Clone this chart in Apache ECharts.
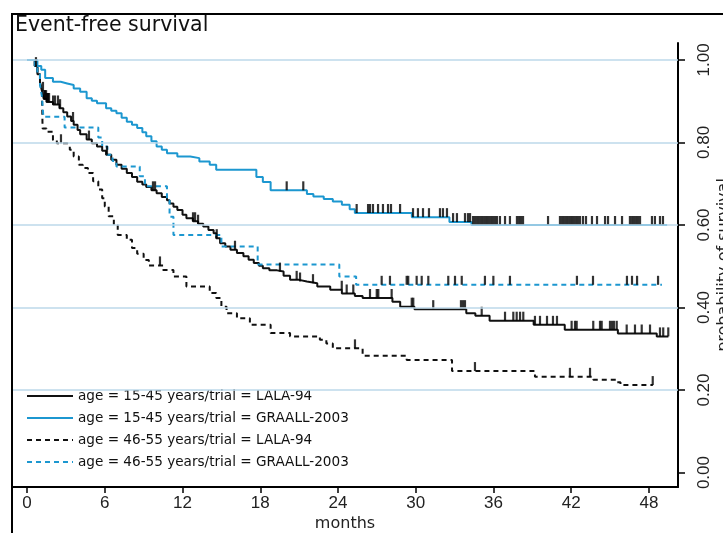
<!DOCTYPE html>
<html>
<head>
<meta charset="utf-8">
<script src="https://cdn.jsdelivr.net/npm/echarts@6/dist/echarts.min.js"></script>
<style>
  html, body { margin: 0; padding: 0; background: #fff; }
  #chart { width: 723px; height: 533px; }
</style>
</head>
<body>
<div id="chart"></div>
<script>
// Kaplan-Meier event-free survival, step points as [month, survival probability]
const lala1545Steps = [
  [0, 1.0], [0.6, 0.985], [0.8, 0.965], [1.0, 0.945], [1.15, 0.925], [1.3, 0.905], [1.5, 0.898],
  [2.0, 0.892], [2.5, 0.883], [2.8, 0.873], [3.1, 0.863], [3.4, 0.852], [3.6, 0.843], [3.9, 0.83],
  [4.1, 0.82], [4.6, 0.807], [5.0, 0.798], [5.4, 0.79], [5.8, 0.78], [6.1, 0.77], [6.5, 0.758],
  [6.9, 0.746], [7.3, 0.736], [7.7, 0.726], [8.1, 0.716], [8.5, 0.705], [8.9, 0.698], [9.2, 0.692],
  [9.6, 0.684], [10.0, 0.677], [10.4, 0.668], [10.8, 0.66], [11.0, 0.652], [11.3, 0.644], [11.6, 0.636],
  [12.0, 0.625], [12.3, 0.616], [12.8, 0.609], [13.2, 0.603], [13.6, 0.596], [14.0, 0.588], [14.4, 0.58],
  [14.6, 0.568], [14.9, 0.556], [15.3, 0.548], [15.7, 0.54], [16.2, 0.532], [16.7, 0.524], [17.1, 0.516],
  [17.5, 0.508], [17.9, 0.501], [18.2, 0.495], [18.7, 0.49], [19.3, 0.487], [19.8, 0.477], [20.3, 0.467],
  [21.0, 0.463], [21.6, 0.459], [22.4, 0.451], [23.4, 0.443], [24.3, 0.434], [25.3, 0.428], [25.9, 0.423],
  [28.2, 0.414], [28.8, 0.402], [29.9, 0.396], [33.9, 0.386], [34.6, 0.38], [35.7, 0.368], [39.1, 0.358],
  [41.5, 0.346], [45.6, 0.337], [48.6, 0.33], [49.5, 0.33]
];
const graall1545Steps = [
  [0, 1.0], [0.8, 0.985], [1.1, 0.976], [1.4, 0.956], [2.0, 0.947], [2.6, 0.943], [3.1, 0.939],
  [3.6, 0.931], [4.1, 0.923], [4.6, 0.907], [5.0, 0.901], [5.4, 0.895], [6.1, 0.883], [6.5, 0.877],
  [6.9, 0.871], [7.3, 0.86], [7.7, 0.85], [8.1, 0.843], [8.5, 0.835], [8.9, 0.825], [9.2, 0.815],
  [9.6, 0.803], [10.0, 0.79], [10.4, 0.782], [10.8, 0.774], [11.6, 0.766], [12.6, 0.762], [13.3, 0.754],
  [14.1, 0.746], [14.6, 0.734], [17.7, 0.716], [18.2, 0.704], [18.8, 0.684], [21.6, 0.675], [22.1, 0.669],
  [22.9, 0.663], [23.6, 0.657], [24.3, 0.649], [24.9, 0.638], [25.3, 0.629], [29.7, 0.619], [32.6, 0.607],
  [34.3, 0.6], [49.4, 0.6]
];
const lala4655Steps = [
  [0, 1.0], [0.6, 0.985], [0.8, 0.965], [1.0, 0.945], [1.15, 0.925], [1.2, 0.834], [1.5, 0.826],
  [2.0, 0.806], [2.3, 0.798], [3.1, 0.794], [3.3, 0.782], [3.6, 0.766], [4.0, 0.746], [4.3, 0.738],
  [4.7, 0.726], [5.1, 0.706], [5.5, 0.686], [5.8, 0.665], [6.0, 0.645], [6.3, 0.621], [6.7, 0.6],
  [7.0, 0.576], [7.7, 0.564], [8.1, 0.544], [8.5, 0.53], [9.0, 0.515], [9.4, 0.502], [10.5, 0.491],
  [11.3, 0.475], [12.3, 0.451], [14.1, 0.435], [14.6, 0.423], [15.0, 0.402], [15.4, 0.386], [16.2, 0.374],
  [17.2, 0.358], [18.8, 0.338], [20.3, 0.33], [22.6, 0.322], [23.1, 0.313], [23.6, 0.301], [25.9, 0.283],
  [29.3, 0.273], [32.8, 0.246], [39.2, 0.232], [43.7, 0.225], [45.5, 0.219], [45.8, 0.212], [48.3, 0.212]
];
const graall4655Steps = [
  [0, 1.0], [0.6, 0.985], [0.8, 0.965], [1.0, 0.94], [1.15, 0.912], [1.26, 0.862], [2.9, 0.836],
  [5.5, 0.812], [5.8, 0.79], [6.2, 0.77], [6.6, 0.755], [6.9, 0.742], [8.7, 0.718], [9.1, 0.694],
  [10.8, 0.66], [11.0, 0.62], [11.3, 0.576], [15.0, 0.548], [17.8, 0.504], [24.1, 0.475], [25.4, 0.455],
  [49.0, 0.455]
];

// Censoring times (months)
const lala1545Censored = [
  0.69, 1.23, 1.31, 1.39, 1.47, 1.54, 1.62, 1.70, 2.01, 2.16, 2.39, 2.55, 3.55, 4.78, 6.17, 9.72, 9.88,
  12.81, 12.97, 13.20, 14.64, 16.05, 19.52, 20.81, 21.07, 22.07, 24.29, 24.67, 25.18, 26.47, 26.99, 27.11,
  28.14, 29.69, 29.81, 31.35, 33.49, 33.65, 33.80, 35.09, 36.89, 37.53, 37.79, 38.05, 38.30, 39.20, 39.59,
  40.13, 40.59, 40.90, 42.03, 42.29, 42.42, 43.70, 44.22, 44.35, 44.99, 45.15, 45.30, 45.51, 46.28, 46.92,
  47.44, 48.08, 48.85, 49.10, 49.49
];
const graall1545Censored = [
  20.04, 21.32, 25.44, 26.32, 26.47, 26.70, 27.09, 27.47, 27.86, 28.09, 28.79, 29.79, 30.17, 30.56, 31.02,
  31.87, 32.10, 32.41, 32.88, 33.18, 33.80, 34.03, 34.19, 34.42, 34.57, 34.73, 34.88, 35.04, 35.19, 35.35,
  35.50, 35.65, 35.81, 35.96, 36.12, 36.27, 36.50, 36.89, 37.27, 37.81, 37.97, 38.12, 38.28, 40.21, 41.13,
  41.29, 41.44, 41.60, 41.75, 41.91, 42.06, 42.21, 42.37, 42.52, 42.68, 42.91, 43.14, 43.60, 43.99, 44.61,
  44.84, 45.38, 45.92, 46.53, 46.69, 46.84, 47.00, 47.15, 47.31, 48.23, 48.46, 48.85, 49.08
];
const lala4655Censored = [2.62, 10.26, 25.31, 34.57, 41.90, 43.45, 48.29];
const graall4655Censored = [
  27.37, 28.01, 29.30, 29.42, 30.07, 30.46, 30.97, 32.51, 33.03, 33.55, 35.34, 35.99, 37.27, 42.44, 43.68,
  46.30, 46.69, 47.08, 48.70
];

const seriesNames = [
  'age = 15-45 years/trial = LALA-94',
  'age = 15-45 years/trial = GRAALL-2003',
  'age = 46-55 years/trial = LALA-94',
  'age = 46-55 years/trial = GRAALL-2003'
];
const monthTicks = [0, 6, 12, 18, 24, 30, 36, 42, 48];
const survivalTicks = [0, 0.2, 0.4, 0.6, 0.8, 1.0];
const gridLevels = [0.2, 0.4, 0.6, 0.8, 1.0];

const BLUE = '#1c97d0';
const BLACK = '#111';

// survival value of a step curve at time t
function survivalAt(steps, t) {
  let v = steps[0][1];
  for (const [x, y] of steps) {
    if (x <= t) v = y; else break;
  }
  return v;
}

function curve(name, steps, color, dashed) {
  return {
    name, type: 'line', step: 'end', data: steps, showSymbol: false, symbol: 'none',
    lineStyle: { color, width: 2, type: dashed ? [5, 4] : 'solid' },
    itemStyle: { color }, z: 3, animation: false
  };
}

function censorMarks(steps, times) {
  return {
    type: 'scatter', data: times.map(t => [t, survivalAt(steps, t)]),
    symbol: 'rect', symbolSize: [2.2, 9], symbolOffset: [0, -4.5],
    itemStyle: { color: '#000' }, z: 4, animation: false, silent: true
  };
}

const chart = echarts.init(document.getElementById('chart'), null, { renderer: 'canvas' });

chart.setOption({
  animation: false,
  backgroundColor: '#fff',
  title: {
    text: 'Event-free survival', left: 15, top: 15, padding: 0,
    textStyle: { fontFamily: 'DejaVu Sans', fontSize: 20.5, fontWeight: 'normal', color: '#111' }
  },
  graphic: [{
    type: 'rect', shape: { x: 12, y: 14, width: 760, height: 560 },
    style: { fill: null, stroke: '#000', lineWidth: 2 }, silent: true, z: 10
  }],
  grid: { left: 12, right: 45, top: 43, bottom: 46, containLabel: false, outerBoundsMode: 'none' },
  legend: {
    data: seriesNames, orient: 'vertical', left: 22, top: 387,
    backgroundColor: '#fff', padding: [2, 4, 2, 4], itemGap: 8,
    itemWidth: 46, itemHeight: 13, selectedMode: false,
    itemStyle: { opacity: 0 },
    textStyle: { fontFamily: 'DejaVu Sans', fontSize: 13.6, color: '#111' }
  },
  xAxis: {
    type: 'value', min: -1.16, max: 50.24, position: 'bottom',
    axisLine: { onZero: false, lineStyle: { color: '#000', width: 2 } },
    axisTick: { customValues: monthTicks, length: 6, inside: false, lineStyle: { color: '#000', width: 1.5 } },
    axisLabel: { customValues: monthTicks, fontFamily: 'Liberation Sans', fontSize: 17, color: '#222', margin: 8 },
    splitLine: { show: false },
    name: 'months', nameLocation: 'middle', nameGap: 29, nameMoveOverlap: false,
    nameTextStyle: { fontFamily: 'DejaVu Sans', fontSize: 16, color: '#222' }
  },
  yAxis: {
    type: 'value', min: -0.035, max: 1.041, position: 'right',
    axisLine: { show: true, onZero: false, lineStyle: { color: '#000', width: 2 } },
    axisTick: { show: true, customValues: survivalTicks, length: 7, inside: false, lineStyle: { color: '#000', width: 1.5 } },
    axisLabel: {
      customValues: survivalTicks, rotate: 90, fontFamily: 'Liberation Sans', fontSize: 17, color: '#222', margin: 18,
      formatter: v => v.toFixed(2)
    },
    splitLine: { show: false },
    name: 'probability of survival', nameLocation: 'middle', nameGap: 38, nameRotate: 90, nameMoveOverlap: false,
    nameTextStyle: { fontFamily: 'DejaVu Sans', fontSize: 16, color: '#222' }
  },
  series: [
    {
      type: 'line', data: [], z: 1, silent: true,
      markLine: {
        silent: true, symbol: 'none', label: { show: false },
        lineStyle: { color: '#bcd9ea', width: 1.5, type: 'solid' },
        data: gridLevels.map(v => ({ yAxis: v }))
      }
    },
    curve(seriesNames[0], lala1545Steps, BLACK, false),
    curve(seriesNames[1], graall1545Steps, BLUE, false),
    curve(seriesNames[2], lala4655Steps, BLACK, true),
    curve(seriesNames[3], graall4655Steps, BLUE, true),
    censorMarks(lala1545Steps, lala1545Censored),
    censorMarks(graall1545Steps, graall1545Censored),
    censorMarks(lala4655Steps, lala4655Censored),
    censorMarks(graall4655Steps, graall4655Censored)
  ]
});
</script>
</body>
</html>
